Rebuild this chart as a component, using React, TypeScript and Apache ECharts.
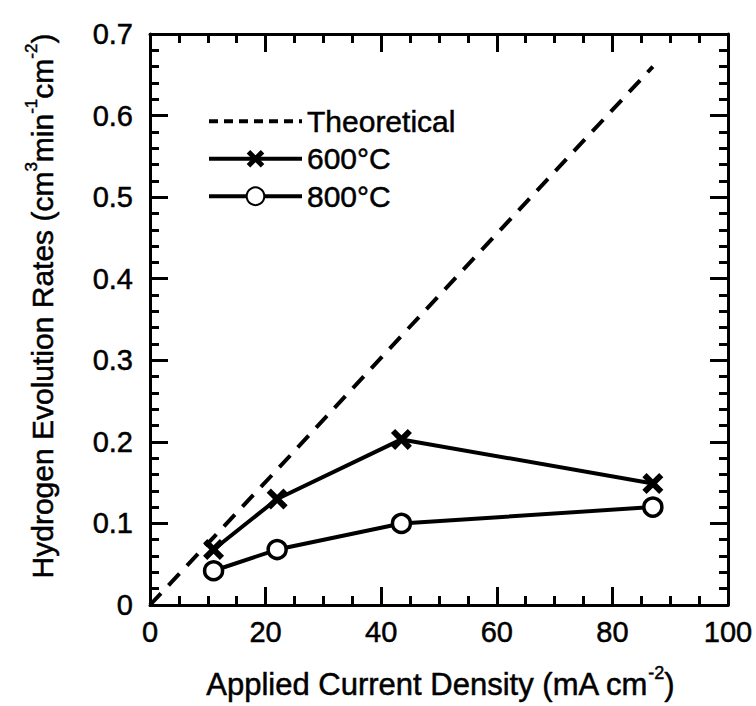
import React, { useEffect, useRef } from "react";
import * as echarts from "echarts";

// Data
const currentDensity = [11, 22, 43.5, 87]; // mA cm^-2
const rate600 = [0.068, 0.13, 0.203, 0.149];
const rate800 = [0.042, 0.068, 0.1, 0.12];
const theoX = [0, 11, 22, 43.5, 87];
const theoY = [0, 0.083, 0.166, 0.33, 0.66];
const seriesNames = ["Theoretical", "600°C", "800°C"];

const FONT = '"Liberation Sans", Arial, Helvetica, sans-serif';
const CROSS =
  "path://M0,0.2L0.2,0L0.5,0.3L0.8,0L1,0.2L0.7,0.5L1,0.8L0.8,1L0.5,0.7L0.2,1L0,0.8L0.3,0.5Z";

export default function App() {
  const ref = useRef<HTMLDivElement>(null);
  useEffect(() => {
    document.body.style.margin = "0";
    if (!ref.current) return;
    const chart = echarts.init(ref.current, undefined, { renderer: "svg" });
    const axisCommon = {
      axisLine: { show: true, onZero: false, lineStyle: { color: "#000", width: 3 } },
      axisTick: { show: true, inside: true, length: 18, lineStyle: { color: "#000", width: 3 } },
      minorTick: { show: true, length: 9, lineStyle: { color: "#000", width: 3 } },
      splitLine: { show: false },
      minorSplitLine: { show: false },
    };
    const xBase = { type: "value", min: 0, max: 100, interval: 20, ...axisCommon, minorTick: { ...axisCommon.minorTick, splitNumber: 4 } };
    const yBase = { type: "value", min: 0, max: 0.7, interval: 0.1, ...axisCommon, minorTick: { ...axisCommon.minorTick, splitNumber: 5 } };
    const pairs = (xs: number[], ys: number[]) => xs.map((x, i) => [x, ys[i]]);
    const labelStyle = { color: "#000", fontSize: 29, fontFamily: FONT, textBorderColor: "#000", textBorderWidth: 0.5 };
    const makeRich = (size: number) => ({
      t: { fontSize: size, fontFamily: FONT, lineHeight: size + 5, verticalAlign: "bottom", fill: "#000" },
      s: { fontSize: Math.round(size * 0.58), fontFamily: FONT, lineHeight: size + 5, verticalAlign: "top", fill: "#000" },
    });
    chart.setOption({
      animation: false,
      backgroundColor: "#fff",
      grid: { left: 150, right: 28, top: 34, bottom: 101, containLabel: false },
      xAxis: [
        { ...xBase, position: "bottom", axisLabel: { show: true, ...labelStyle, margin: 12 } },
        { ...xBase, position: "top", axisLabel: { show: false } },
      ],
      yAxis: [
        { ...yBase, position: "left", axisLabel: { show: true, ...labelStyle, margin: 17 } },
        { ...yBase, position: "right", axisLabel: { show: false } },
      ],
      legend: {
        orient: "vertical",
        left: 207,
        top: 106,
        padding: 0,
        itemWidth: 93,
        itemHeight: 22,
        itemGap: 7,
        lineStyle: { width: 4 },
        textStyle: { color: "#000", fontSize: 30, fontFamily: FONT, lineHeight: 30, textBorderColor: "#000", textBorderWidth: 0.5 },
        data: [
          {
            name: seriesNames[0],
            lineStyle: { type: [9, 6], width: 4 },
            itemStyle: { color: "rgba(0,0,0,0)", borderWidth: 0, opacity: 0 },
          },
          { name: seriesNames[1] },
          { name: seriesNames[2] },
        ],
      },
      series: [
        {
          name: seriesNames[0],
          type: "line",
          data: pairs(theoX, theoY),
          symbol: "none",
          lineStyle: { color: "#000", width: 4, type: [16, 11] },
          itemStyle: { color: "#000" },
          z: 1,
        },
        {
          name: seriesNames[1],
          type: "line",
          data: pairs(currentDensity, rate600),
          symbol: CROSS,
          symbolSize: 21,
          lineStyle: { color: "#000", width: 4 },
          itemStyle: { color: "#000" },
          z: 2,
        },
        {
          name: seriesNames[2],
          type: "line",
          data: pairs(currentDensity, rate800),
          symbol: "circle",
          symbolSize: 18,
          lineStyle: { color: "#000", width: 4 },
          itemStyle: { color: "#fff", borderColor: "#000", borderWidth: 3.5 },
          z: 3,
        },
      ],
      graphic: [
        {
          type: "text",
          x: 440,
          y: 682,
          style: {
            text: "{t|Applied Current Density (mA cm}{s|-2}{t|)}",
            align: "center",
            verticalAlign: "middle",
            fill: "#000",
            stroke: "#000",
            lineWidth: 0.5,
            rich: makeRich(31),
          },
        },
        {
          type: "text",
          x: 40,
          y: 306,
          rotation: Math.PI / 2,
          style: {
            text: "{t|Hydrogen Evolution Rates (cm}{s|3}{t|min}{s|-1}{t|cm}{s|-2}{t|)}",
            align: "center",
            verticalAlign: "middle",
            fill: "#000",
            stroke: "#000",
            lineWidth: 0.5,
            rich: makeRich(30),
          },
        },
      ],
    });
    return () => chart.dispose();
  }, []);
  return <div ref={ref} style={{ width: 756, height: 706 }} />;
}
